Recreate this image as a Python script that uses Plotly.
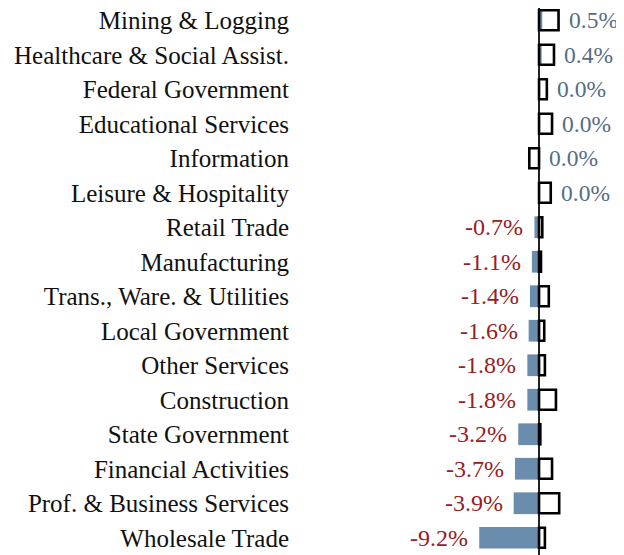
import plotly.graph_objects as go

# Categorias (de cima para baixo)
sectors = [
    "Mining & Logging",
    "Healthcare & Social Assist.",
    "Federal Government",
    "Educational Services",
    "Information",
    "Leisure & Hospitality",
    "Retail Trade",
    "Manufacturing",
    "Trans., Ware. & Utilities",
    "Local Government",
    "Other Services",
    "Construction",
    "State Government",
    "Financial Activities",
    "Prof. & Business Services",
    "Wholesale Trade",
]

# Variação atual (barras preenchidas)
change_pct = [0.5, 0.4, 0.0, 0.0, 0.0, 0.0, -0.7, -1.1, -1.4, -1.6, -1.8, -1.8, -3.2, -3.7, -3.9, -9.2]

# Variação de comparação (caixas vazadas)
compare_pct = [3.0, 2.3, 1.2, 2.0, -1.5, 1.8, 0.5, 0.3, 1.5, 0.8, 0.9, 2.6, 0.2, 2.0, 3.1, 0.9]

COLORS = {
    'bar': '#6a8cad',
    'box': '#000000',
    'neg_text': '#97201f',
    'pos_text': '#566d86',
    'text': '#111111',
}
FONT = "Liberation Serif, Times New Roman, serif"

fig = go.Figure()

fig.add_trace(go.Bar(
    y=sectors, x=change_pct, orientation='h',
    marker=dict(color=COLORS['bar'], line=dict(width=0)),
    width=0.63, showlegend=False,
))

fig.add_trace(go.Bar(
    y=sectors, x=compare_pct, orientation='h',
    marker=dict(color='rgba(0,0,0,0)', line=dict(color=COLORS['box'], width=2.6)),
    width=0.58, showlegend=False,
))

# Rótulos de valor
for s, v, c in zip(sectors, change_pct, compare_pct):
    if v < 0:
        fig.add_annotation(x=v, y=s, text=f"{v:.1f}%", showarrow=False,
                           xanchor='right', xshift=-9,
                           font=dict(family=FONT, size=24, color=COLORS['neg_text']))
    else:
        fig.add_annotation(x=max(0, v, c), y=s, text=f"{v:.1f}%", showarrow=False,
                           xanchor='left', xshift=8,
                           font=dict(family=FONT, size=23.5, color=COLORS['pos_text']))

fig.update_layout(
    width=624, height=555,
    barmode='overlay',
    paper_bgcolor='white', plot_bgcolor='white',
    margin=dict(l=292, r=0, t=0, b=0),
    font=dict(family=FONT, size=25, color=COLORS['text']),
    xaxis=dict(range=[-36.77, 14.3], showgrid=False, showticklabels=False,
               zeroline=True, zerolinecolor='#222222', zerolinewidth=1.5, fixedrange=True),
    yaxis=dict(range=[15.732, -0.355], showgrid=False, ticks='',
               ticklabelstandoff=10, tickfont=dict(family=FONT, size=25, color=COLORS['text'])),
)

fig.write_html("out.html")
